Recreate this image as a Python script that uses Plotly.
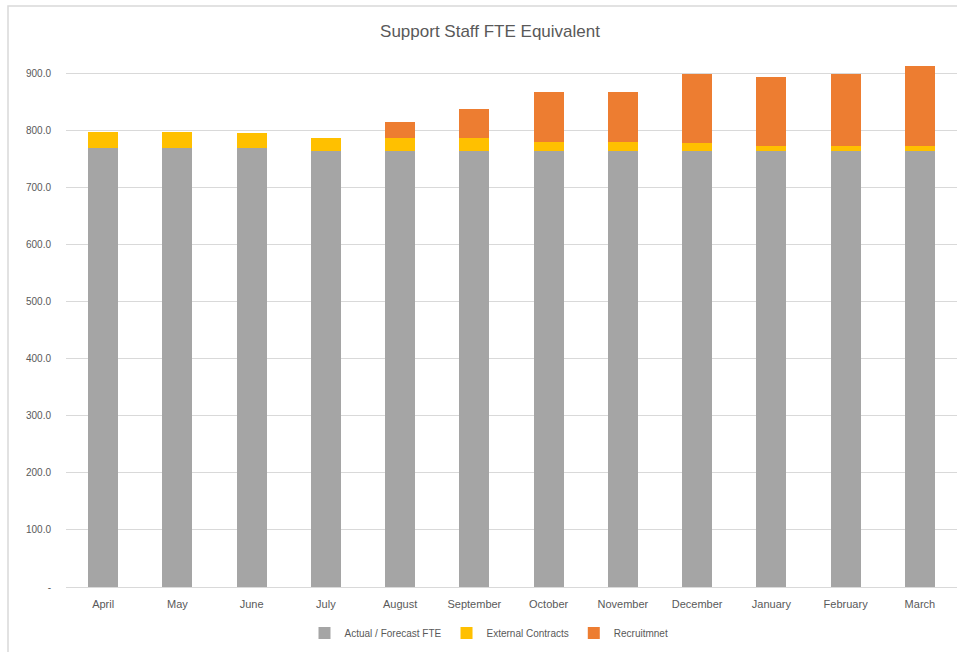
import plotly.graph_objects as go

months = ["April", "May", "June", "July", "August", "September",
          "October", "November", "December", "January", "February", "March"]
actual_forecast_fte = [769, 769, 769, 764, 764, 764, 764, 764, 764, 764, 764, 764]
external_contracts = [28, 28, 26, 22, 23, 23, 15, 15, 14, 8, 8, 8]
recruitment = [0, 0, 0, 0, 27, 50, 87, 87, 121, 121, 126, 141]

y_ticks = [0, 100, 200, 300, 400, 500, 600, 700, 800, 900]
y_tick_text = ["-"] + [f"{v:.1f}" for v in y_ticks[1:]]

FONT = "Liberation Sans, Arial, sans-serif"
TEXT_GREY = "#595959"
GRID = "#d9d9d9"

fig = go.Figure()
fig.add_trace(go.Bar(x=months, y=actual_forecast_fte, name="Actual / Forecast FTE",
                     marker=dict(color="#A5A5A5", line=dict(width=0))))
fig.add_trace(go.Bar(x=months, y=external_contracts, name="External Contracts",
                     marker=dict(color="#FFC000", line=dict(width=0))))
fig.add_trace(go.Bar(x=months, y=recruitment, name="Recruitmnet",
                     marker=dict(color="#ED7D31", line=dict(width=0))))

W, H = 957, 652
ML, MR, MT, MB = 66, 0, 60, 65
plot_w = W - ML - MR
plot_h = H - MT - MB

fig.update_layout(
    width=W, height=H,
    barmode="stack",
    bargap=0.595,
    margin=dict(l=ML, r=MR, t=MT, b=MB),
    paper_bgcolor="white",
    plot_bgcolor="white",
    font=dict(family=FONT, color=TEXT_GREY, size=11),
    title=dict(text="Support Staff FTE Equivalent",
               font=dict(family=FONT, size=17, color=TEXT_GREY),
               x=490 / W, xanchor="center", y=1 - 31 / H, yanchor="middle"),
    xaxis=dict(range=[-0.5, 11.5], showgrid=False, showline=True,
               linecolor=GRID, linewidth=1, ticks="", ticklabelstandoff=7,
               tickfont=dict(size=11, color=TEXT_GREY), fixedrange=True),
    yaxis=dict(range=[0, 922.8], tickvals=y_ticks, ticktext=y_tick_text,
               showgrid=True, gridcolor=GRID, gridwidth=1, zeroline=False,
               showline=False, ticks="", ticklabelstandoff=14,
               tickfont=dict(size=10, color=TEXT_GREY), fixedrange=True),
    legend=dict(orientation="h", x=(489 - ML) / plot_w, xanchor="center",
                y=(587 - 633) / plot_h, yanchor="middle",
                font=dict(size=10, color=TEXT_GREY), traceorder="normal",
                itemwidth=30),
    showlegend=True,
)

# light chart frame along the left and top edges
fig.add_shape(type="rect", xref="paper", yref="paper",
              x0=(8 - ML) / plot_w, x1=1.2,
              y0=-0.3, y1=(587 - 6) / plot_h,
              line=dict(color=GRID, width=1.5), layer="below")

fig.write_html("out.html")
